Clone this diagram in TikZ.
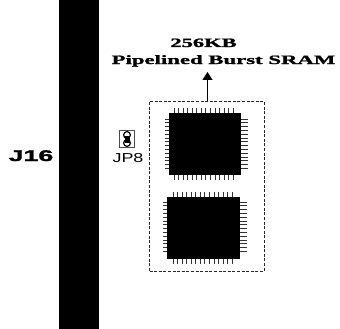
\documentclass[tikz,border=0pt]{standalone}
\usepackage{fontspec}
\setmainfont{Liberation Serif}
\setsansfont{Liberation Sans}
\newfontfamily\heavyserif[BoldFeatures={FakeBold=1.2}]{Liberation Serif}
\newfontfamily\heavysans[BoldFeatures={FakeBold=1.5}]{Liberation Sans}
\usetikzlibrary{arrows.meta}
\tikzset{
  chip/.style={fill=black,draw=none,inner sep=0pt,minimum width=#1},
  pin/.style={draw=black!80,line width=0.9pt},
  title/.style={inner sep=0pt,anchor=base},
  zone/.style={draw=black!85,dashed,dash pattern=on 3pt off 1.6pt,line width=0.9pt,inner sep=0pt},
}
\begin{document}
\begin{tikzpicture}[x=1pt,y=-1pt]
\useasboundingbox (0,0) rectangle (340,329);
\node[fill=black,inner sep=0pt,minimum width=40pt,minimum height=329pt] (bar) at (79,164.5) {};
\node[zone,minimum width=114.5pt,minimum height=170pt] (zone) at (206.75,186) {};
% chip 1
\node[chip=72pt,minimum height=62pt] (chipa) at (205,144) {};
\foreach \i in {0,...,13} {
  \draw[pin] (174+\i*4.55,108) -- (174+\i*4.55,113);
  \draw[pin] (174+\i*4.55,175) -- (174+\i*4.55,180);
}
\foreach \i in {0,...,13} {
  \draw[pin] (165,119+\i*3.8) -- (169,119+\i*3.8);
  \draw[pin] (241,119+\i*3.8) -- (248,119+\i*3.8);
}
% chip 2
\node[chip=73pt,minimum height=62pt] (chipb) at (203.5,228) {};
\foreach \i in {0,...,13} {
  \draw[pin] (173+\i*4.55,192) -- (173+\i*4.55,197);
  \draw[pin] (173+\i*4.55,259) -- (173+\i*4.55,264);
}
\foreach \i in {0,...,13} {
  \draw[pin] (163,202+\i*3.8) -- (167,202+\i*3.8);
  \draw[pin] (240,202+\i*3.8) -- (247,202+\i*3.8);
}
% titles
\node[title] (ta) at (203.5,47) {\scalebox{1.73}[0.98]{\fontsize{13}{13}\selectfont\heavyserif\bfseries 256KB}};
\node[title] (tb) at (223.5,64) {\scalebox{1.75}[0.98]{\fontsize{13}{13}\selectfont\heavyserif\bfseries Pipelined Burst SRAM}};
\coordinate (tip) at (207.5,72);
\draw[line width=0.9pt,-{Triangle[length=8pt,width=10pt]}] (zone.north -| tip) -- (tip);
% labels
\node[inner sep=0pt,anchor=base] (j16) at (31,161) {\scalebox{1.73}[1]{\fontsize{15.5}{15.5}\selectfont\heavysans\bfseries J16}};
\node[inner sep=0pt,anchor=base] (jp8) at (128,162) {\sffamily\fontsize{13}{13}\selectfont\scalebox{1.38}[1]{JP8}};
% jumper
\node[draw=black!70,line width=1.1pt,inner sep=0pt,minimum width=15pt,minimum height=17pt] (jumper) at (127,139) {};
\draw[line width=1.2pt] (127,135) circle (3.4pt) (127,143) circle (3.4pt);
\fill (124.5,135.5) rectangle (129.5,142.5);
\end{tikzpicture}
\end{document}
